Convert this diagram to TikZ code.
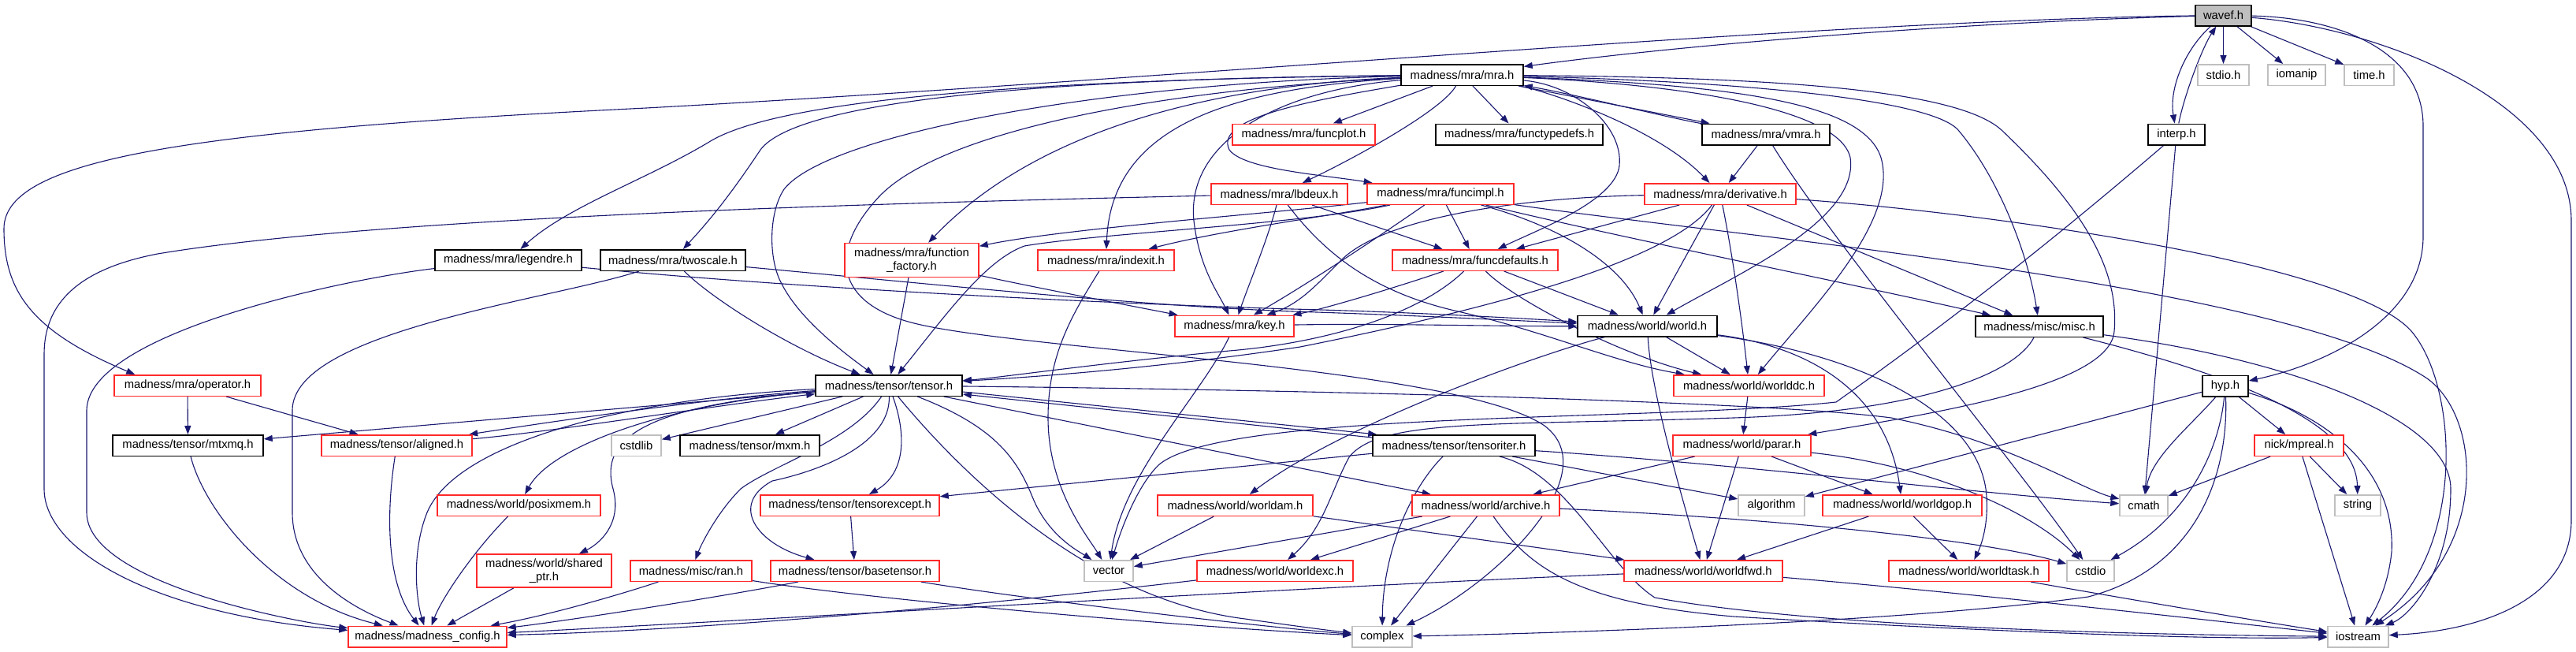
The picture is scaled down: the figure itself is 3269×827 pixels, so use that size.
\documentclass[tikz,border=0pt]{standalone}
\usepackage{fontspec}
\setmainfont{Liberation Sans}
\usetikzlibrary{arrows.meta}
\definecolor{edgeblue}{HTML}{191970}
\definecolor{nodered}{HTML}{FF2A2A}
\definecolor{nodegray}{HTML}{BFBFBF}
\pgfdeclarelayer{bglayer}
\pgfdeclarelayer{edgelayer}
\pgfsetlayers{bglayer,edgelayer,main}
\tikzset{
 nb/.style={draw=black, fill=white, line width=1.5pt, inner sep=0pt, minimum height=26.5pt, font=\fontsize{14.8}{17}\selectfont, align=center},
 nr/.style={nb, draw=nodered},
 ng/.style={nb, draw=nodegray},
 e/.style={draw=edgeblue, line width=1.1pt, -{Triangle[length=11pt,width=8pt]}},
}
\begin{document}
\begin{tikzpicture}[x=1pt,y=-1pt]
\begin{pgfonlayer}{bglayer}
\fill[white] (0,0) rectangle (3269,827);
\end{pgfonlayer}
\useasboundingbox (0,0) rectangle (3269,827);
% nodes
\node[nb,fill=nodegray,minimum width=71pt] (wavef) at (2821.5,19.5) {wavef.h};
\node[nb,minimum width=155pt] (mra) at (1855.5,95) {madness/mra/mra.h};
\node[ng,minimum width=65pt] (stdio) at (2821.5,95) {stdio.h};
\node[ng,minimum width=73pt] (iomanip) at (2914.5,95) {iomanip};
\node[ng,minimum width=63pt] (timeh) at (3006.5,95) {time.h};
\node[nr,minimum width=181pt] (funcplot) at (1654.5,170.5) {madness/mra/funcplot.h};
\node[nb,minimum width=212pt] (functypedefs) at (1928,170.5) {madness/mra/functypedefs.h};
\node[nb,minimum width=162pt] (vmra) at (2241,170.5) {madness/mra/vmra.h};
\node[nb,minimum width=72pt] (interp) at (2762,170.5) {interp.h};
\node[nr,minimum width=173pt] (lbdeux) at (1623.5,246) {madness/mra/lbdeux.h};
\node[nr,minimum width=186pt] (funcimpl) at (1828,246) {madness/mra/funcimpl.h};
\node[nr,minimum width=192pt] (deriv) at (2183,246) {madness/mra/derivative.h};
\node[nb,minimum width=186pt] (legendre) at (645,330) {madness/mra/legendre.h};
\node[nb,minimum width=184pt] (twoscale) at (854,330) {madness/mra/twoscale.h};
\node[nr,minimum width=170pt,minimum height=43pt] (ffac) at (1157,330) {madness/mra/function\\\_factory.h};
\node[nr,minimum width=173pt] (indexit) at (1403.5,330) {madness/mra/indexit.h};
\node[nr,minimum width=210pt] (funcdef) at (1872,330) {madness/mra/funcdefaults.h};
\node[nr,minimum width=151pt] (key) at (1566.5,413.5) {madness/mra/key.h};
\node[nb,minimum width=177pt] (world) at (2090.5,413.5) {madness/world/world.h};
\node[nb,minimum width=162pt] (misc) at (2588,414) {madness/misc/misc.h};
\node[nr,minimum width=186pt] (operator) at (238,489) {madness/mra/operator.h};
\node[nb,minimum width=186pt] (tensor) at (1128,489) {madness/tensor/tensor.h};
\node[nr,minimum width=191pt] (worlddc) at (2219.5,489) {madness/world/worlddc.h};
\node[nb,minimum width=58pt] (hyp) at (2824,489.5) {hyp.h};
\node[nb,minimum width=191pt] (mtxmq) at (238.5,565) {madness/tensor/mtxmq.h};
\node[nr,minimum width=191pt] (aligned) at (503.5,565) {madness/tensor/aligned.h};
\node[ng,minimum width=63pt] (cstdlib) at (807.5,565) {cstdlib};
\node[nb,minimum width=177pt] (mxm) at (951.5,565) {madness/tensor/mxm.h};
\node[nb,minimum width=206pt] (titer) at (1845,565) {madness/tensor/tensoriter.h};
\node[nr,minimum width=175pt] (parar) at (2210.5,565) {madness/world/parar.h};
\node[nr,minimum width=113pt] (mpreal) at (2917.5,565) {nick/mpreal.h};
\node[nr,minimum width=207pt] (posixmem) at (658.5,641) {madness/world/posixmem.h};
\node[nr,minimum width=227pt] (texcept) at (1078.5,641) {madness/tensor/tensorexcept.h};
\node[nr,minimum width=197pt] (worldam) at (1567.5,641) {madness/world/worldam.h};
\node[nr,minimum width=187pt] (archive) at (1885.5,641) {madness/world/archive.h};
\node[ng,minimum width=84pt] (algorithm) at (2248,641) {algorithm};
\node[nr,minimum width=202pt] (worldgop) at (2414,641) {madness/world/worldgop.h};
\node[ng,minimum width=61pt] (cmath) at (2720.5,641) {cmath};
\node[ng,minimum width=58pt] (stringh) at (2992,641) {string};
\node[nr,minimum width=171pt,minimum height=42pt] (sptr) at (690.5,724) {madness/world/shared\\\_ptr.h};
\node[nr,minimum width=154pt] (ran) at (877,724) {madness/misc/ran.h};
\node[nr,minimum width=214pt] (basetensor) at (1085,724) {madness/tensor/basetensor.h};
\node[ng,minimum width=62pt] (vector) at (1407,724) {vector};
\node[nr,minimum width=198pt] (worldexc) at (1618,724) {madness/world/worldexc.h};
\node[nr,minimum width=201pt] (worldfwd) at (2161.5,724) {madness/world/worldfwd.h};
\node[nr,minimum width=203pt] (worldtask) at (2498.5,724) {madness/world/worldtask.h};
\node[ng,minimum width=60pt] (cstdio) at (2653,724) {cstdio};
\node[nr,minimum width=201pt] (config) at (542.5,807.5) {madness/madness\_config.h};
\node[ng,minimum width=76pt] (complex) at (1754,807.5) {complex};
\node[ng,minimum width=77pt] (iostream) at (2992.5,807.5) {iostream};
\begin{pgfonlayer}{edgelayer}
% wavef
\draw[e] (wavef) .. controls (2500,28) and (2150,55) .. (mra);
\draw[e] (wavef) .. controls (2300,26) and (1500,100) .. (820,137) .. controls (250,165) and (5,200) .. (5,290) .. controls (5,370) and (40,420) .. ([xshift=27pt]operator.north west);
\draw[e] (wavef) -- (stdio);
\draw[e] (wavef) -- (iomanip);
\draw[e] (wavef) -- (timeh);
\draw[e] (wavef) .. controls (2775,60) and (2752,110) .. (interp);
\draw[e] (interp) .. controls (2772,120) and (2795,60) .. (wavef);
\draw[e] (wavef) .. controls (2960,22) and (3075,60) .. (3075,160) -- (3075,300) .. controls (3075,400) and (2960,460) .. (hyp);
\draw[e] (wavef) .. controls (3020,35) and (3263,130) .. (3263,280) -- (3263,660) .. controls (3263,760) and (3150,800) .. (iostream);
% mra
\draw[e] (mra) .. controls (1400,100) and (1000,118) .. (900,180) .. controls (820,228) and (720,262) .. (legendre);
\draw[e] (mra) .. controls (1300,100) and (1010,130) .. (965,190) .. controls (925,250) and (900,280) .. (twoscale);
\draw[e] (mra) .. controls (1400,105) and (1050,170) .. (995,240) .. controls (975,270) and (975,330) .. (992,360) .. controls (1012,400) and (1060,440) .. (tensor);
\draw[e] (mra) .. controls (1450,115) and (1190,170) .. (1115,250) .. controls (1050,320) and (1060,385) .. (1160,410) .. controls (1300,445) and (1850,465) .. (1960,540) .. controls (2040,600) and (1900,740) .. (complex);
\draw[e] (mra) .. controls (1500,110) and (1300,180) .. (ffac);
\draw[e] (mra) .. controls (1560,112) and (1410,160) .. (indexit);
\draw[e] (mra) .. controls (1620,115) and (1505,180) .. (1515,280) .. controls (1522,340) and (1545,370) .. (key);
\draw[e] (mra) .. controls (1660,128) and (1540,150) .. (1560,190) .. controls (1578,215) and (1680,222) .. (funcimpl);
\draw[e] (mra) -- (funcplot);
\draw[e] (mra) .. controls (1830,140) and (1720,200) .. (lbdeux);
\draw[e] (mra) -- (functypedefs);
\draw[e] (mra) .. controls (1960,115) and (2100,160) .. (deriv);
\draw[e] (mra) -- (vmra);
\draw[e] (vmra) .. controls (2120,150) and (2000,120) .. (mra);
\draw[e] (mra) .. controls (2000,108) and (2060,160) .. (2055,210) .. controls (2050,255) and (1950,292) .. (funcdef);
\draw[e] (mra) .. controls (2200,108) and (2365,130) .. (2387,200) .. controls (2410,280) and (2300,390) .. (worlddc);
\draw[e] (mra) .. controls (2150,108) and (2335,140) .. (2348,200) .. controls (2360,280) and (2200,350) .. (world);
\draw[e] (mra) .. controls (2200,103) and (2450,125) .. (2485,165) .. controls (2540,230) and (2575,330) .. (misc);
\draw[e] (mra) .. controls (2220,98) and (2480,110) .. (2540,165) .. controls (2640,260) and (2690,340) .. (2683,420) .. controls (2678,490) and (2450,525) .. (parar);
% vmra, interp, misc
\draw[e] (vmra) -- (deriv);
\draw[e] (vmra) .. controls (2320,300) and (2560,590) .. (cstdio);
\draw[e] (interp) -- (cmath);
\draw[e] (interp) .. controls (2640,275) and (2500,390) .. (2330,510) .. controls (2100,535) and (1550,520) .. (1470,590) .. controls (1440,620) and (1420,680) .. (vector);
\draw[e] (misc) .. controls (2560,470) and (2450,522) .. (2200,530) .. controls (1900,540) and (1750,530) .. (1712,580) .. controls (1690,620) and (1680,670) .. (worldexc);
\draw[e] (misc) .. controls (2900,455) and (3110,530) .. (3110,620) .. controls (3110,720) and (3060,780) .. (iostream);
\draw[e] (misc) .. controls (2850,480) and (2990,540) .. (stringh);
% lbdeux
\draw[e] (lbdeux) .. controls (1200,256) and (500,272) .. (200,322) .. controls (80,345) and (56,400) .. (56,450) -- (56,620) .. controls (56,700) and (200,780) .. (config);
\draw[e] (lbdeux) .. controls (1610,300) and (1585,360) .. (key);
\draw[e] (lbdeux) -- (funcdef);
\draw[e] (lbdeux) .. controls (1680,320) and (1740,370) .. (1850,395) .. controls (1960,420) and (2050,460) .. (worlddc);
% funcimpl
\draw[e] (funcimpl) .. controls (1600,272) and (1350,290) .. (ffac);
\draw[e] (funcimpl) .. controls (1700,272) and (1550,292) .. (indexit);
\draw[e] (funcimpl) .. controls (1750,300) and (1660,360) .. (key);
\draw[e] (funcimpl) -- (funcdef);
\draw[e] (funcimpl) .. controls (1990,290) and (2060,340) .. (world);
\draw[e] (funcimpl) .. controls (1650,285) and (1400,295) .. (1300,312) .. controls (1250,330) and (1200,400) .. (tensor);
\draw[e] (funcimpl) .. controls (2050,300) and (2350,360) .. (misc);
\draw[e] (funcimpl) .. controls (2200,300) and (2900,360) .. (3080,480) .. controls (3150,530) and (3160,700) .. (iostream);
% derivative
\draw[e] (deriv) -- (funcdef);
\draw[e] (deriv) .. controls (1950,250) and (1760,272) .. (1702,330) .. controls (1672,360) and (1650,385) .. (key);
\draw[e] (deriv) -- (world);
\draw[e] (deriv) .. controls (2200,330) and (2212,420) .. (worlddc);
\draw[e] (deriv) -- (misc);
\draw[e] (deriv) .. controls (2500,268) and (2980,330) .. (3060,420) .. controls (3120,490) and (3130,700) .. (iostream);
\draw[e] (deriv) .. controls (2120,330) and (1900,390) .. (1650,440) .. controls (1450,470) and (1280,480) .. (tensor);
% funcdefaults
\draw[e] (funcdef) .. controls (1780,362) and (1680,392) .. (key);
\draw[e] (funcdef) -- (world);
\draw[e] (funcdef) .. controls (1920,380) and (2060,452) .. (worlddc);
\draw[e] (funcdef) .. controls (1800,400) and (1680,435) .. (1560,445) .. controls (1400,460) and (1260,480) .. (tensor);
% legendre, twoscale
\draw[e] (legendre) .. controls (1000,365) and (1400,385) .. (1640,392) .. controls (1800,396) and (1950,405) .. (world);
\draw[e] (legendre) .. controls (450,352) and (112,420) .. (110,520) -- (110,650) .. controls (110,740) and (380,790) .. (config);
\draw[e] (twoscale) .. controls (1200,362) and (1450,388) .. (1640,395) .. controls (1800,400) and (1950,408) .. (world);
\draw[e] (twoscale) .. controls (905,380) and (1000,440) .. (tensor);
\draw[e] (twoscale) .. controls (700,380) and (372,420) .. (371,520) -- (371,650) .. controls (371,740) and (470,780) .. (config);
% function_factory, indexit, key
\draw[e] (ffac) -- (tensor);
\draw[e] (ffac) .. controls (1300,362) and (1420,385) .. (key);
\draw[e] (indexit) .. controls (1360,400) and (1330,450) .. (1330,530) .. controls (1330,620) and (1380,680) .. (vector);
\draw[e] (key) .. controls (1525,500) and (1425,600) .. (vector);
\draw[e] (key) .. controls (1750,410) and (1900,414) .. (world);
% world
\draw[e] (world) -- (worlddc);
\draw[e] (world) .. controls (2095,500) and (2140,650) .. (worldfwd);
\draw[e] (world) .. controls (2300,440) and (2395,500) .. (worldgop);
\draw[e] (world) .. controls (2360,450) and (2505,520) .. (2520,620) .. controls (2525,660) and (2515,690) .. (worldtask);
\draw[e] (world) .. controls (1950,450) and (1700,540) .. (worldam);
% operator
\draw[e] (operator) -- (mtxmq);
\draw[e] (operator) -- (aligned);
% tensor
\draw[e] (tensor) -- (mtxmq);
\draw[e] (tensor) .. controls (900,505) and (700,535) .. (aligned);
\draw[e] (aligned) .. controls (700,548) and (900,515) .. (tensor);
\draw[e] (tensor) -- (cstdlib);
\draw[e] (tensor) -- (mxm);
\draw[e] (tensor) .. controls (850,512) and (700,565) .. (posixmem);
\draw[e] (tensor) .. controls (820,515) and (760,555) .. (778,620) .. controls (790,665) and (760,690) .. (sptr);
\draw[e] (tensor) .. controls (800,505) and (580,560) .. (542,650) .. controls (522,700) and (528,760) .. (config);
\draw[e] (tensor) .. controls (1080,560) and (980,590) .. (940,620) .. controls (910,650) and (890,690) .. (ran);
\draw[e] (tensor) .. controls (1130,560) and (1050,595) .. (980,610) .. controls (925,640) and (960,690) .. (basetensor);
\draw[e] (tensor) .. controls (1150,550) and (1150,600) .. (texcept);
\draw[e] (tensor) .. controls (1260,540) and (1290,580) .. (1310,630) .. controls (1330,680) and (1370,700) .. (vector);
\draw[e] (tensor) .. controls (1220,600) and (1380,760) .. (1580,785) .. controls (1650,795) and (1690,800) .. (complex);
\draw[e] ([yshift=-8pt]tensor.east) -- ([xshift=6pt]titer.north west);
\draw[e] ([yshift=-4pt]titer.north west) -- ([yshift=-11pt]tensor.east);
\draw[e] (tensor) -- (archive);
\draw[e] (tensor) .. controls (1700,495) and (2250,510) .. (2400,530) .. controls (2550,560) and (2640,620) .. (cmath);
% tensoriter
\draw[e] (titer) -- (texcept);
\draw[e] (titer) .. controls (1790,620) and (1755,700) .. (complex);
\draw[e] (titer) -- (algorithm);
\draw[e] (titer) .. controls (2200,588) and (2500,625) .. (cmath);
\draw[e] (titer) .. controls (1990,600) and (2040,720) .. (2100,758) .. controls (2300,795) and (2700,805) .. (iostream);
% worlddc, parar, worldgop
\draw[e] (worlddc) -- (parar);
\draw[e] (parar) -- (archive);
\draw[e] (parar) -- (worldfwd);
\draw[e] (parar) -- (worldgop);
\draw[e] (parar) .. controls (2450,590) and (2580,650) .. (cstdio);
\draw[e] (worldgop) -- (worldfwd);
\draw[e] (worldgop) -- (worldtask);
% archive
\draw[e] (archive) -- (vector);
\draw[e] (archive) -- (worldexc);
\draw[e] (archive) -- (complex);
\draw[e] (archive) .. controls (2200,655) and (2500,680) .. (cstdio);
\draw[e] (archive) .. controls (1940,720) and (2000,765) .. (2200,782) .. controls (2500,800) and (2800,812) .. (iostream);
% worldam, worldfwd, worldexc, worldtask
\draw[e] (worldam) -- (vector);
\draw[e] (worldam) -- (worldfwd);
\draw[e] (worldfwd) .. controls (1700,742) and (900,790) .. (config);
\draw[e] (worldfwd) .. controls (2500,752) and (2850,792) .. (iostream);
\draw[e] (worldexc) .. controls (1300,762) and (900,800) .. (config);
\draw[e] (worldtask) .. controls (2700,760) and (2880,790) .. (iostream);
% lower tensor nodes
\draw[e] (texcept) -- (basetensor);
\draw[e] (basetensor) .. controls (900,760) and (700,790) .. (config);
\draw[e] (basetensor) .. controls (1300,760) and (1600,795) .. (complex);
\draw[e] (ran) .. controls (800,750) and (700,780) .. (config);
\draw[e] (ran) .. controls (1100,760) and (1500,795) .. (complex);
\draw[e] (mtxmq) .. controls (260,650) and (350,760) .. (config);
\draw[e] (aligned) .. controls (490,650) and (490,740) .. (config);
\draw[e] (posixmem) .. controls (600,700) and (560,760) .. (config);
\draw[e] (sptr) -- (config);
% hyp
\draw[e] (hyp) -- (algorithm);
\draw[e] (hyp) .. controls (2780,540) and (2730,580) .. (cmath);
\draw[e] (hyp) .. controls (2815,580) and (2770,660) .. (cstdio);
\draw[e] (hyp) .. controls (2828,600) and (2790,720) .. (2650,757) .. controls (2400,792) and (1900,805) .. (complex);
\draw[e] (hyp) -- (mpreal);
\draw[e] (hyp) .. controls (2960,530) and (3040,600) .. (3035,700) .. controls (3030,750) and (3010,780) .. (iostream);
\draw[e] (mpreal) -- (cmath);
\draw[e] (mpreal) -- (stringh);
\draw[e] (mpreal) -- (iostream);
\end{pgfonlayer}
\end{tikzpicture}
\end{document}
